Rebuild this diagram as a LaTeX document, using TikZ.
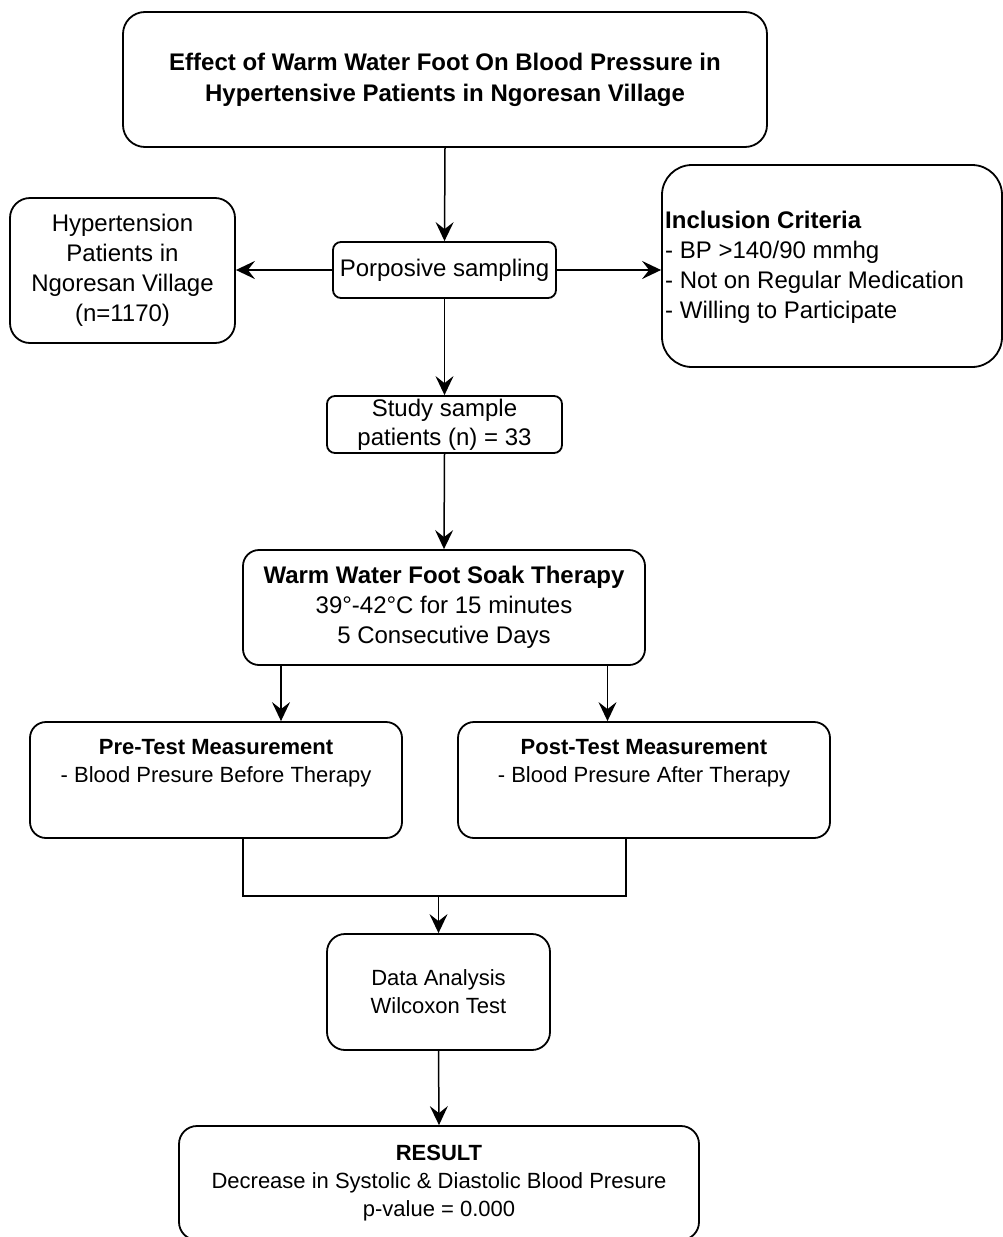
\documentclass[tikz,border=0pt]{standalone}
\usepackage{fontspec}
\setmainfont{Liberation Sans}
\usetikzlibrary{arrows.meta}
\begin{document}
\begin{tikzpicture}[x=1pt,y=-1pt,
  box/.style={draw, line width=1.8pt, rounded corners=#1, inner sep=0pt, align=center},
  box/.default=14pt,
  big/.style={font=\fontsize{24}{30}\selectfont},
  bigb/.style={font=\fontsize{24}{31}\selectfont\bfseries},
  small/.style={font=\fontsize{22}{28}\selectfont},
  txt/.style={inner sep=0pt, align=center},
  arr/.style={line width=1.5pt, -{Stealth[length=19pt,width=18pt,inset=7pt]}},
  conn/.style={line width=1.5pt}]
\useasboundingbox (0,0) rectangle (1003,1237);
\fill[white] (0,0) rectangle (1003,1237);
\clip (0,0) rectangle (1003,1237);

% boxes
\node[box=22pt, bigb, minimum width=644pt, minimum height=135pt] (title) at (445,79.5)
  {Effect of Warm Water Foot On Blood Pressure in\\Hypertensive Patients in Ngoresan Village};
\node[box=20pt, big, minimum width=225pt, minimum height=145pt] (hyper) at (122.5,270.5)
  {Hypertension\\Patients in\\Ngoresan Village\\(n=1170)};
\node[box=8pt, big, minimum width=223pt, minimum height=56pt] (porp) at (444.5,270)
  {Porposive sampling};
\node[box=30pt, minimum width=340pt, minimum height=202pt] (incl) at (832,266) {};
\node[txt, big, align=left, anchor=west] (inclT) at (665,267)
  {\textbf{Inclusion Criteria}\\- BP >140/90 mmhg\\- Not on Regular Medication\\- Willing to Participate};
\node[box=8pt, font=\fontsize{24}{29}\selectfont, minimum width=235pt, minimum height=57pt] (study) at (444.5,424.5)
  {Study sample\\patients (n) = 33};
\node[box=16pt, big, minimum width=402pt, minimum height=115pt] (warm) at (444,607.5)
  {\textbf{Warm Water Foot Soak Therapy}\\39°-42°C for 15 minutes\\5 Consecutive Days};
\node[box=16pt, minimum width=372pt, minimum height=116pt] (pre) at (216,780) {};
\node[txt, small] (preT) at ([yshift=17pt]pre.center)
  {\textbf{Pre-Test Measurement}\\- Blood Presure Before Therapy};
\node[box=16pt, minimum width=372pt, minimum height=116pt] (post) at (644,780) {};
\node[txt, small] (postT) at ([yshift=17pt]post.center)
  {\textbf{Post-Test Measurement}\\- Blood Presure After Therapy};
\node[box=18pt, small, minimum width=223pt, minimum height=116pt] (data) at (438.5,992)
  {Data Analysis\\Wilcoxon Test};
\node[box=18pt, small, minimum width=520pt, minimum height=114pt] (result) at (439,1183)
  {\textbf{RESULT}\\Decrease in Systolic \& Diastolic Blood Presure\\p-value = 0.000};

% connectors
\draw[arr] (title.south) -- (porp.north);
\draw[arr, line width=2.5pt] (porp.west) -- (porp.west -| hyper.east);
\draw[arr, line width=2.2pt] (porp.east) -- (porp.east -| incl.west);
\draw[arr] (porp.south) -- (study.north);
\draw[arr] (study.south) -- (warm.north);
\coordinate (preIn) at ([xshift=65pt]pre.north);
\coordinate (postIn) at ([xshift=-36.5pt]post.north);
\draw[arr] (warm.south -| preIn) -- (preIn);
\draw[arr] (warm.south -| postIn) -- (postIn);
\coordinate (preOut) at ([xshift=27pt]pre.south);
\coordinate (postOut) at ([xshift=-18pt]post.south);
\coordinate (merge) at (438.5,896);
\draw[conn] (preOut) |- (merge) -| (postOut);
\draw[arr] (merge) -- (data.north);
\draw[arr] (data.south) -- (result.north);
\end{tikzpicture}
\end{document}
